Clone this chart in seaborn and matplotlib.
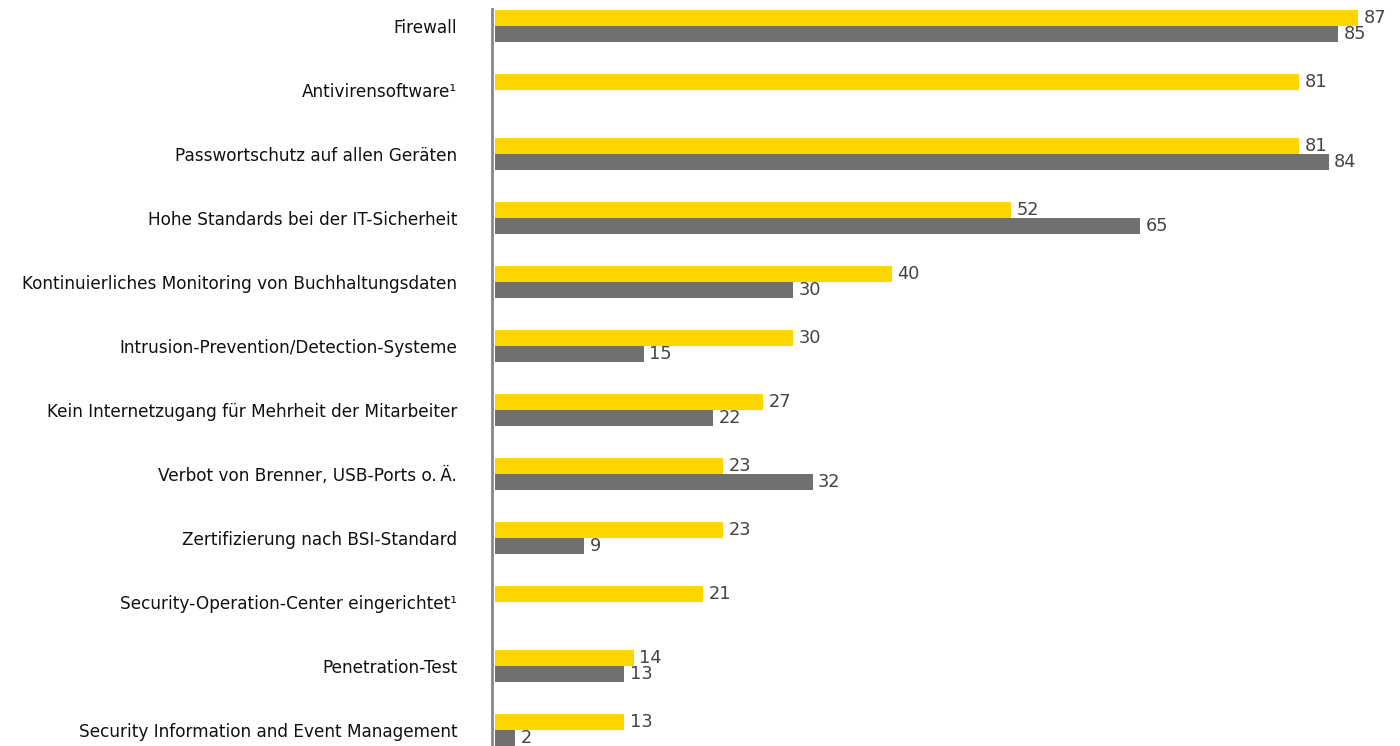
import numpy as np
import pandas as pd
import matplotlib
matplotlib.use("Agg")
import matplotlib.pyplot as plt
import seaborn as sns

categories = [
    "Firewall",
    "Antivirensoftware\u00b9",
    "Passwortschutz auf allen Geräten",
    "Hohe Standards bei der IT-Sicherheit",
    "Kontinuierliches Monitoring von Buchhaltungsdaten",
    "Intrusion-Prevention/Detection-Systeme",
    "Kein Internetzugang für Mehrheit der Mitarbeiter",
    "Verbot von Brenner, USB-Ports o.\u2009Ä.",
    "Zertifizierung nach BSI-Standard",
    "Security-Operation-Center eingerichtet\u00b9",
    "Penetration-Test",
    "Security Information and Event Management",
]
series_a = [87, 81, 81, 52, 40, 30, 27, 23, 23, 21, 14, 13]
series_b = [85, np.nan, 84, 65, 30, 15, 22, 32, 9, np.nan, 13, 2]
series_names = ["A", "B"]
colors = ["#FFD500", "#707070"]

df = pd.DataFrame({
    "Kategorie": categories * 2,
    "Wert": series_a + series_b,
    "Serie": [series_names[0]] * len(categories) + [series_names[1]] * len(categories),
})

sns.set_theme(style="white")
plt.rcParams["font.family"] = ["DejaVu Sans"]

fig = plt.figure(figsize=(14, 7.46), dpi=100)
ax = fig.add_axes([492 / 1400, 0, 1 - 492 / 1400, 1])

sns.barplot(data=df, y="Kategorie", x="Wert", hue="Serie", order=categories,
            hue_order=series_names, palette=colors, width=0.5, dodge=True,
            orient="h", errorbar=None, saturation=1, legend=False,
            linewidth=0, ax=ax)

for c in ax.containers:
    ax.bar_label(c, fmt="%g", padding=4, fontsize=12.8, color="#444444")

ax.set_xlim(-0.3, 91.2)
ax.set_ylim(11.25, -0.406)
ax.set_xlabel("")
ax.set_ylabel("")
ax.set_xticks([])
ax.tick_params(axis="y", length=0, pad=25, labelsize=12.2, labelcolor="#111111")
for s in ["top", "right", "bottom"]:
    ax.spines[s].set_visible(False)
ax.spines["left"].set_color("#888888")
ax.spines["left"].set_linewidth(2)
ax.spines["left"].set_bounds(-0.27, 11.25)

fig.savefig("out.png", dpi=100)
